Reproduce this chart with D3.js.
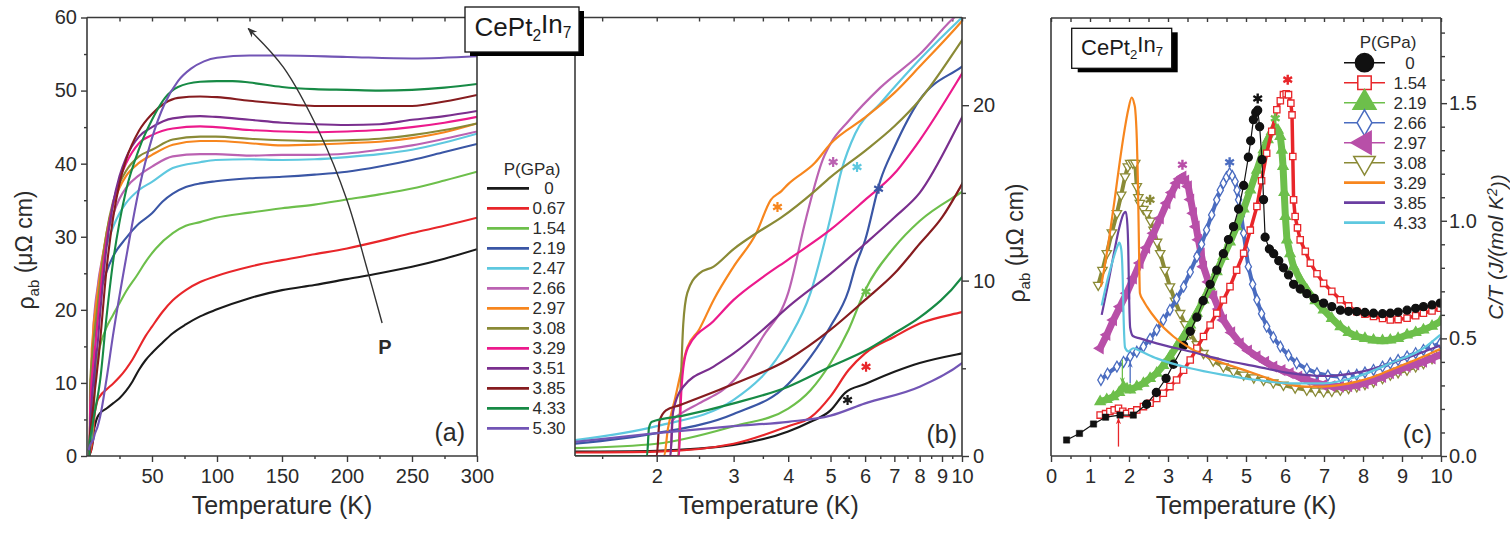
<!DOCTYPE html>
<html><head><meta charset="utf-8">
<script src="https://cdn.jsdelivr.net/npm/d3@7"></script>
<style>body{margin:0;background:#fff}svg{display:block;background:#fff}</style>
</head><body><svg id="c" width="1510" height="547"></svg>
<script>
// ---------------- DATA: panels (a) and (b)  [T (K), rho_ab (μΩ cm)] ----------------
const pressuresAB = ["0","0.67","1.54","2.19","2.47","2.66","2.97","3.08","3.29","3.51","3.85","4.33","5.30"];
const colorsAB = ["#1a1a1a","#e8262a","#6dbf4b","#3a56a5","#5ec8df","#bb62b2","#f7861e","#8a8a36","#ec1a8c","#7a2f8e","#861c1f","#178a45","#7255b5"];
const rho_000 = [[1.3,0.25],[2,0.3],[3,0.63],[4,1.4],[4.5,1.95],[5,2.6],[5.4,3.6],[6,4.1],[7,4.8],[8,5.3],[10,5.85],[15,6.5],[20,7.2],[25,7.9],[30,8.9],[35,10.2],[40,11.8],[45,13.1],[50,14.1],[58,15.5],[66,16.8],[76,18],[87,19.1],[99,20],[125,21.6],[150,22.7],[175,23.4],[200,24.2],[225,25],[250,25.9],[275,27],[300,28.3]];
const rho_067 = [[1.3,0.2],[2,0.25],[3,0.7],[4,1.7],[4.5,2.2],[5,3.4],[5.5,4.9],[6,5.85],[7,6.8],[8,7.55],[10,8.2],[15,9.1],[20,9.9],[25,10.8],[30,11.9],[35,13.2],[40,14.8],[45,16.4],[50,17.7],[58,19.7],[66,21.3],[76,22.7],[87,23.8],[99,24.6],[125,25.9],[150,26.8],[175,27.6],[200,28.4],[225,29.4],[250,30.5],[275,31.5],[300,32.6]];
const rho_154 = [[1.3,0.45],[2,0.7],[3,1.7],[4,2.7],[4.5,3.75],[5,5.3],[5.5,7.2],[6,9.45],[7,11.9],[8,13.4],[10,15.05],[15,17.6],[20,19.3],[25,20.9],[30,22.5],[38,24.6],[46,26.8],[53,28.4],[66,30.5],[76,31.5],[87,32],[99,32.6],[125,33.3],[150,33.9],[175,34.4],[200,35.1],[225,35.8],[250,36.6],[275,37.7],[300,38.9]];
const rho_219 = [[1.3,0.7],[2,1.3],[3,2.4],[4,4.1],[4.5,5.65],[5,7.4],[5.5,9.45],[5.7,10.8],[6,12.3],[6.5,15.7],[7,17.6],[8,20.3],[10,22.2],[15,25.2],[20,27.3],[30,29.8],[40,31.8],[50,33.2],[58,34.8],[66,35.9],[76,36.8],[87,37.3],[99,37.6],[125,38],[150,38.2],[175,38.5],[200,38.9],[225,39.6],[250,40.5],[275,41.6],[300,42.7]];
const rho_247 = [[1.3,0.9],[2,1.7],[3,3.2],[4,6.6],[4.5,9.3],[5,13.6],[5.3,16.3],[5.7,18.4],[6.5,20.1],[8,22.6],[10,25],[15,28.8],[20,31.3],[25,33.2],[30,34.6],[40,36.4],[50,37.5],[66,39.4],[87,40.2],[99,40.5],[125,40.6],[150,40.5],[175,40.6],[200,40.9],[225,41.3],[250,41.9],[275,42.9],[300,44.1]];
const rho_266 = [[1.3,0],[2.15,0],[2.17,2],[2.3,2.5],[2.5,3],[3,4.3],[3.5,6.8],[4,9.3],[4.4,13.6],[4.8,16.9],[5,17.8],[5.5,19.1],[6.5,21],[8,22.9],[9.5,24.9],[10,25.4],[15,30],[20,33],[25,35.2],[30,36.7],[40,38.4],[50,39.6],[66,41],[87,41.3],[99,41.3],[125,41.1],[150,41.2],[175,41.2],[200,41.4],[225,41.9],[250,42.5],[275,43.4],[300,44.4]];
const rho_297 = [[1.3,0],[2.08,0],[2.12,1.5],[2.2,3.2],[2.35,6.2],[2.5,7.2],[2.7,8.9],[3,10.8],[3.38,12.7],[3.65,14.6],[3.86,15.1],[4,15.5],[4.6,16.7],[5,17.8],[6,19.3],[7,20.7],[8,22.2],[10,24.8],[15,30.5],[20,34.3],[25,36.7],[30,38.3],[40,40.1],[50,41.2],[66,42.6],[87,43.1],[99,43.1],[125,42.8],[150,42.5],[175,42.6],[200,42.8],[225,43],[250,43.5],[275,44.3],[300,45.5]];
const rho_308 = [[1.3,0],[2.24,0],[2.27,4],[2.3,7.5],[2.35,9.3],[2.5,10.4],[2.7,10.8],[3,11.8],[3.38,12.7],[3.86,13.6],[4.6,15.1],[5,15.9],[6,17.4],[7,18.8],[8,20.3],[10,23.7],[15,30.5],[20,34.8],[25,37.3],[30,39],[40,41],[50,41.9],[66,43.3],[87,43.7],[99,43.7],[125,43.4],[150,43.2],[175,43.1],[200,43.2],[225,43.4],[250,43.9],[275,44.6],[300,45.5]];
const rho_329 = [[1.3,0],[2.25,0],[2.27,3],[2.3,5],[2.36,6.2],[2.7,7.7],[3,8.9],[3.5,10.2],[4,11.2],[5,12.9],[6,14.6],[7,16.1],[8,18],[10,21.8],[15,29.5],[20,34.5],[25,37.8],[30,40],[40,42.8],[50,43.9],[66,44.8],[87,45.1],[99,45],[125,44.6],[150,44.4],[175,44.3],[200,44.4],[225,44.6],[250,45],[275,45.6],[300,46.4]];
const rho_351 = [[1.3,0],[2.15,0],[2.18,2.5],[2.3,3.95],[2.7,5.1],[3,5.85],[3.5,7.2],[4,8.5],[5,10.4],[6,12.1],[7,13.6],[8,15],[10,19.3],[15,28.5],[20,34.5],[25,38.3],[30,40.8],[40,43.7],[50,45],[66,46.2],[87,46.5],[99,46.4],[125,46],[150,45.6],[175,45.4],[200,45.3],[225,45.4],[250,46],[275,46.5],[300,47.2]];
const rho_385 = [[1.3,0],[2.0,0],[2.03,2],[2.1,2.6],[2.26,2.9],[3,4.1],[4,5.5],[5,7.2],[6,8.9],[7,10.4],[8,12.1],[9,13.6],[10,15.5],[15,25.5],[20,32.5],[25,37.3],[30,40.5],[40,44.5],[50,46.8],[60,48.3],[70,49],[87,49.2],[100,49.1],[125,48.6],[150,48.2],[175,47.9],[200,47.9],[225,47.9],[250,47.9],[275,48.5],[300,49.4]];
const rho_433 = [[1.3,0],[1.9,0],[1.92,1.6],[1.95,1.95],[2.3,2.3],[3,3],[4,3.95],[5,5.1],[6,6],[7,7],[8,7.9],[10,10.2],[15,19],[20,26.5],[25,32],[30,36.3],[40,42],[50,46],[60,49],[70,50.5],[87,51.2],[100,51.3],[112,51.3],[125,51.1],[150,50.5],[175,50.2],[200,50.1],[225,50],[250,50.1],[275,50.4],[300,50.9]];
const rho_530 = [[1.3,0.8],[2,1.3],[3,1.7],[4,1.95],[5,2.3],[6,3],[8,3.95],[10,5.3],[15,10.5],[20,16.5],[30,27],[40,36.5],[50,43.5],[60,48.3],[70,51.3],[80,53],[90,54],[100,54.5],[125,54.8],[150,54.8],[200,54.6],[250,54.4],[300,54.7]];
const rhoAB = [rho_000,rho_067,rho_154,rho_219,rho_247,rho_266,rho_297,rho_308,rho_329,rho_351,rho_385,rho_433,rho_530];
// T_N stars in panel (b): [pressure, T, rho]
const starsB = [["0",5.47,3.19],["0.67",6.03,5.09],["1.54",6.03,9.36],["2.97",3.78,14.2],["2.66",5.07,16.76],["2.47",5.75,16.48],["2.19",6.44,15.24]];
// pressure arrow in panel (a): [T, rho]
const arrowP = [[227,18.2],[215,25.9],[200,35],[179,44.2],[151,53.2],[124,58.5]];
const labelP = [224,14];

// ---------------- DATA: panel (c)  [T (K), C/T (J/(mol K^2))] ----------------
const pressuresC = ["0","1.54","2.19","2.66","2.97","3.08","3.29","3.85","4.33"];
const colorsC = ["#111111","#e8262a","#6dbf4b","#4a6cc0","#b84fa8","#8a8a36","#f7861e","#6a3ea1","#5ec8df"];
const ct_000_low = [[0.4,0.068],[0.73,0.096],[1.09,0.136],[1.4,0.165],[1.77,0.174],[2.11,0.174]];
const ct_000 = [[2.45,0.22],[2.7,0.27],[2.95,0.33],[3.14,0.39],[3.4,0.47],[3.57,0.53],[3.74,0.59],[3.9,0.66],[4.08,0.73],[4.25,0.79],[4.42,0.86],[4.55,0.92],[4.68,0.975],[4.81,1.05],[4.94,1.15],[5.06,1.27],[5.12,1.34],[5.19,1.43],[5.25,1.46],[5.3,1.47],[5.35,1.4],[5.41,1.26],[5.45,1.09],[5.49,0.93],[5.6,0.88],[5.71,0.86],[5.84,0.83],[5.96,0.8],[6.09,0.77],[6.22,0.73],[6.39,0.71],[6.56,0.69],[6.75,0.67],[6.99,0.65],[7.2,0.635],[7.42,0.62],[7.63,0.615],[7.84,0.614],[8.05,0.61],[8.27,0.607],[8.5,0.605],[8.7,0.607],[8.9,0.612],[9.13,0.62],[9.35,0.628],[9.55,0.635],[9.77,0.642],[9.98,0.65]];
const ct_154 = [[1.26,0.174],[1.4,0.18],[1.51,0.189],[1.62,0.196],[1.73,0.203],[1.84,0.19],[1.94,0.181],[2.07,0.188],[2.2,0.196],[2.37,0.21],[2.54,0.224],[2.71,0.245],[2.88,0.267],[3.05,0.295],[3.22,0.323],[3.4,0.365],[3.57,0.408],[3.74,0.458],[3.91,0.508],[4.08,0.557],[4.25,0.607],[4.42,0.663],[4.59,0.72],[4.76,0.79],[4.94,0.862],[5.11,0.96],[5.28,1.061],[5.4,1.17],[5.53,1.287],[5.66,1.38],[5.79,1.472],[5.88,1.51],[5.96,1.536],[6.03,1.54],[6.09,1.536],[6.15,1.5],[6.18,1.45],[6.2,1.273],[6.22,1.089],[6.26,1.018],[6.32,0.97],[6.39,0.919],[6.52,0.87],[6.65,0.82],[6.82,0.775],[6.99,0.734],[7.2,0.7],[7.42,0.664],[7.63,0.638],[7.84,0.614],[8.05,0.603],[8.27,0.593],[8.5,0.585],[8.7,0.578],[8.9,0.58],[9.13,0.586],[9.35,0.596],[9.55,0.607],[9.77,0.617],[9.98,0.628]];
const ct_219 = [[1.26,0.231],[1.43,0.24],[1.6,0.252],[1.75,0.27],[1.86,0.295],[1.95,0.285],[2.03,0.281],[2.2,0.295],[2.37,0.309],[2.54,0.33],[2.71,0.352],[2.88,0.385],[3.05,0.423],[3.22,0.465],[3.4,0.508],[3.57,0.557],[3.74,0.607],[3.91,0.663],[4.08,0.72],[4.25,0.784],[4.42,0.848],[4.59,0.91],[4.76,0.975],[4.94,1.05],[5.11,1.131],[5.28,1.215],[5.45,1.302],[5.56,1.345],[5.66,1.38],[5.75,1.394],[5.82,1.385],[5.88,1.358],[5.92,1.3],[5.95,1.231],[5.98,1.12],[6.01,1.018],[6.05,0.919],[6.13,0.86],[6.22,0.805],[6.39,0.75],[6.56,0.706],[6.78,0.66],[6.99,0.621],[7.2,0.585],[7.42,0.55],[7.63,0.525],[7.84,0.508],[8.05,0.5],[8.27,0.493],[8.5,0.49],[8.7,0.493],[8.9,0.5],[9.13,0.515],[9.35,0.525],[9.55,0.536],[9.77,0.552],[9.98,0.571]];
const ct_266 = [[1.28,0.323],[1.45,0.35],[1.69,0.38],[1.86,0.4],[2.03,0.423],[2.2,0.443],[2.37,0.465],[2.54,0.498],[2.71,0.536],[2.88,0.578],[3.05,0.621],[3.22,0.668],[3.4,0.72],[3.57,0.782],[3.74,0.848],[3.86,0.9],[3.99,0.961],[4.12,1.025],[4.25,1.089],[4.34,1.13],[4.42,1.16],[4.5,1.185],[4.58,1.202],[4.65,1.19],[4.72,1.167],[4.77,1.13],[4.81,1.089],[4.88,1.02],[4.94,0.947],[5.0,0.875],[5.06,0.805],[5.17,0.73],[5.28,0.664],[5.4,0.605],[5.53,0.55],[5.7,0.505],[5.88,0.465],[6.09,0.428],[6.3,0.394],[6.56,0.37],[6.82,0.352],[7.1,0.342],[7.42,0.337],[7.63,0.34],[7.84,0.345],[8.05,0.355],[8.27,0.366],[8.5,0.38],[8.7,0.394],[8.9,0.408],[9.13,0.423],[9.35,0.437],[9.55,0.451],[9.77,0.465],[9.98,0.479]];
const ct_297 = [[1.26,0.458],[1.43,0.515],[1.6,0.578],[1.77,0.635],[1.94,0.692],[2.11,0.755],[2.28,0.82],[2.45,0.885],[2.63,0.947],[2.8,1.01],[2.97,1.075],[3.1,1.12],[3.22,1.16],[3.3,1.178],[3.38,1.188],[3.45,1.17],[3.52,1.146],[3.58,1.09],[3.65,1.032],[3.72,0.975],[3.78,0.919],[3.85,0.86],[3.91,0.805],[4.04,0.74],[4.17,0.678],[4.3,0.625],[4.42,0.578],[4.63,0.525],[4.85,0.479],[5.06,0.448],[5.28,0.423],[5.5,0.4],[5.71,0.38],[5.92,0.365],[6.13,0.352],[6.35,0.337],[6.56,0.323],[6.78,0.312],[6.99,0.302],[7.2,0.297],[7.42,0.295],[7.63,0.297],[7.84,0.302],[8.05,0.31],[8.27,0.323],[8.5,0.337],[8.7,0.352],[8.9,0.366],[9.13,0.38],[9.35,0.39],[9.55,0.401],[9.77,0.415],[9.98,0.43]];
const ct_308 = [[1.21,0.727],[1.32,0.79],[1.43,0.862],[1.56,0.95],[1.69,1.032],[1.8,1.11],[1.9,1.188],[1.97,1.23],[2.03,1.245],[2.1,1.245],[2.16,1.245],[2.2,1.146],[2.24,1.1],[2.28,1.075],[2.37,1.05],[2.46,1.032],[2.55,1.0],[2.63,0.961],[2.72,0.91],[2.8,0.862],[2.92,0.79],[3.05,0.72],[3.18,0.66],[3.31,0.607],[3.44,0.56],[3.57,0.522],[3.74,0.475],[3.91,0.437],[4.16,0.405],[4.42,0.38],[4.68,0.36],[4.94,0.345],[5.2,0.333],[5.45,0.323],[5.7,0.312],[5.96,0.302],[6.26,0.29],[6.56,0.281],[6.78,0.277],[6.99,0.274],[7.2,0.276],[7.42,0.281],[7.63,0.288],[7.84,0.295],[8.05,0.305],[8.27,0.316],[8.5,0.33],[8.7,0.345],[8.9,0.355],[9.13,0.366],[9.35,0.38],[9.55,0.394],[9.77,0.415],[9.98,0.437]];
const ct_329 = [[1.28,0.72],[1.4,0.83],[1.51,0.947],[1.64,1.1],[1.77,1.259],[1.88,1.38],[1.98,1.472],[2.07,1.524],[2.13,1.5],[2.16,1.472],[2.2,1.35],[2.22,1.231],[2.25,0.95],[2.28,0.692],[2.37,0.66],[2.46,0.635],[2.71,0.578],[3.14,0.508],[3.57,0.458],[3.99,0.423],[4.42,0.394],[4.94,0.366],[5.45,0.337],[5.96,0.309],[6.56,0.295],[6.99,0.295],[7.42,0.302],[7.84,0.316],[8.27,0.337],[8.7,0.366],[9.13,0.394],[9.55,0.423],[9.98,0.455]];
const ct_385 = [[1.3,0.6],[1.45,0.72],[1.6,0.85],[1.75,0.97],[1.86,1.03],[1.92,1.038],[1.96,0.98],[1.98,0.89],[2.0,0.7],[2.03,0.545],[2.1,0.51],[2.28,0.5],[2.71,0.479],[3.57,0.444],[4.42,0.408],[5.28,0.38],[6.13,0.352],[7.0,0.34],[8.0,0.36],[9.0,0.41],[9.98,0.47]];
const ct_433 = [[1.3,0.64],[1.45,0.75],[1.6,0.84],[1.7,0.89],[1.75,0.907],[1.8,0.88],[1.84,0.75],[1.86,0.6],[1.9,0.46],[1.98,0.445],[2.11,0.458],[2.3,0.445],[2.71,0.415],[3.57,0.373],[4.42,0.345],[5.28,0.323],[6.13,0.309],[6.99,0.309],[7.84,0.337],[8.7,0.394],[9.55,0.458],[9.98,0.515]];
const ctC = [ct_000,ct_154,ct_219,ct_266,ct_297,ct_308,ct_329,ct_385,ct_433];
const symbolsC = ["circle","square","triangle","diamond","left","down",null,null,null];
const filledC = [true,false,true,false,true,false,false,false,false];
// T_N stars in panel (c): [pressure, T, C/T]
const starsC = [["0",5.3,1.52],["1.54",6.07,1.6],["2.19",5.75,1.436],["2.66",4.58,1.249],["2.97",3.37,1.238],["3.08",2.54,1.089]];
// T_c arrows in panel (c): [pressure, T, from, to]
const arrowsC = [["1.54",1.73,0.04,0.16],["2.19",1.83,0.41,0.31],["2.66",2.03,0.31,0.40]];

// tick values
const ticksAx = [50,100,150,200,250,300], ticksAxMinor = [25,75,125,175,225,275];
const ticksAy = [0,10,20,30,40,50,60], ticksAyMinor = [5,15,25,35,45,55];
const ticksBx = [2,3,4,5,6,7,8,9,10], ticksBxMinor = [1.5,2.5,3.5,4.5,5.5,6.5,7.5,8.5,9.5];
const ticksBy = [0,10,20], ticksByMinor = [5,15,25];
const ticksCx = [0,1,2,3,4,5,6,7,8,9,10], ticksCxMinor = [0.5,1.5,2.5,3.5,4.5,5.5,6.5,7.5,8.5,9.5];
const ticksCy = [0,0.5,1.0,1.5], ticksCyMinor = [0.1,0.2,0.3,0.4,0.6,0.7,0.8,0.9,1.1,1.2,1.3,1.4,1.6,1.7,1.8];

// ---------------- DRAWING ----------------
const FONT = "'Liberation Sans', Arial, Helvetica, sans-serif";
const FR = "#3a3a3a", TXT = "#2b2b2b";
const svg = d3.select("#c").style("font-family", FONT);
const defs = svg.append("defs");

const A = {x0:87, x1:477, y0:17.5, y1:456};
const B = {x0:575, x1:962, y0:17.5, y1:456};
const Cp = {x0:1051, x1:1441, y0:18, y1:456};
const xA = d3.scaleLinear().domain([0,300]).range([A.x0,A.x1]);
const yA = d3.scaleLinear().domain([0,60]).range([A.y1,A.y0]);
const xB = d3.scaleLog().domain([1.3,10]).range([B.x0,B.x1]);
const yB = d3.scaleLinear().domain([0,25]).range([B.y1,B.y0]);
const xC = d3.scaleLinear().domain([0,10]).range([Cp.x0,Cp.x1]);
const yC = d3.scaleLinear().domain([0,1.862]).range([Cp.y1,Cp.y0]);

function clip(id, P){ defs.append("clipPath").attr("id",id).append("rect").attr("x",P.x0).attr("y",P.y0).attr("width",P.x1-P.x0).attr("height",P.y1-P.y0); }
clip("clA",A); clip("clB",B); clip("clC",Cp);

function ax(gen, tx, ty, labels){
  const g = svg.append("g").attr("transform",`translate(${tx},${ty})`).call(gen);
  g.select(".domain").remove();
  g.selectAll(".tick line").attr("stroke",FR).attr("stroke-width",1.4);
  if(!labels) g.selectAll(".tick text").remove();
  else g.selectAll(".tick text").attr("fill",TXT).style("font-size","20px").style("font-family",FONT);
  return g;
}
function frame(P, sides){
  sides.forEach(s=>{
    const l = {top:[P.x0,P.y0,P.x1,P.y0], bottom:[P.x0,P.y1,P.x1,P.y1], left:[P.x0,P.y0,P.x0,P.y1], right:[P.x1,P.y0,P.x1,P.y1]}[s];
    svg.append("line").attr("x1",l[0]).attr("y1",l[1]).attr("x2",l[2]).attr("y2",l[3]).attr("stroke",FR).attr("stroke-width",1.6);
  });
}

// ----- Panel (a) -----
ax(d3.axisBottom(xA).tickValues(ticksAx).tickSize(6).tickPadding(7), 0, A.y1, true);
ax(d3.axisBottom(xA).tickValues(ticksAxMinor).tickSize(3), 0, A.y1, false);
ax(d3.axisTop(xA).tickValues(ticksAx.concat(ticksAxMinor)).tickSize(-4), 0, A.y0, false);
ax(d3.axisLeft(yA).tickValues(ticksAy).tickSize(6).tickPadding(4), A.x0, 0, true);
ax(d3.axisLeft(yA).tickValues(ticksAyMinor).tickSize(3), A.x0, 0, false);

const lineA = d3.line().x(d=>xA(d[0])).y(d=>yA(d[1])).curve(d3.curveMonotoneX);
const gA = svg.append("g").attr("clip-path","url(#clA)");
rhoAB.forEach((s,i)=>gA.append("path").attr("d",lineA(s)).attr("fill","none").attr("stroke",colorsAB[i]).attr("stroke-width",2.1));
frame(A,["top","bottom","left","right"]);

// arrow P
defs.append("marker").attr("id","arrP").attr("viewBox","0 0 10 10").attr("refX",9).attr("refY",5)
  .attr("markerWidth",7).attr("markerHeight",7).attr("orient","auto")
  .append("path").attr("d","M0,1 L10,5 L0,9 L3,5 Z").attr("fill","#333");
svg.append("path").attr("d",d3.line().x(d=>xA(d[0])).y(d=>yA(d[1])).curve(d3.curveCatmullRom)(arrowP))
  .attr("fill","none").attr("stroke","#333").attr("stroke-width",1.4).attr("marker-end","url(#arrP)");
svg.append("text").attr("x",xA(labelP[0])).attr("y",yA(labelP[1])).attr("font-weight","bold")
  .style("font-size","20px").attr("fill",TXT).text("P");
svg.append("text").attr("x",465).attr("y",441).attr("text-anchor","end").style("font-size","25px").attr("fill",TXT).text("(a)");

svg.append("text").attr("x",(A.x0+A.x1)/2).attr("y",514).attr("text-anchor","middle").style("font-size","25px").attr("fill",TXT).text("Temperature (K)");
function rhoTitle(x,y){
  const t = svg.append("text").attr("transform",`translate(${x},${y}) rotate(-90)`).attr("text-anchor","middle").style("font-size","23px").attr("fill",TXT);
  t.append("tspan").text("ρ");
  t.append("tspan").attr("dy","0.3em").style("font-size","15px").text("ab");
  t.append("tspan").attr("dy","-0.3em").text(" (μΩ cm)");
}
rhoTitle(34,250);

// ----- Panel (b) -----
ax(d3.axisBottom(xB).tickValues(ticksBx).tickFormat(d3.format("d")).tickSize(6).tickPadding(7), 0, B.y1, true);
ax(d3.axisBottom(xB).tickValues(ticksBxMinor).tickSize(3), 0, B.y1, false);
ax(d3.axisTop(xB).tickValues(ticksBx.concat(ticksBxMinor)).tickSize(-4), 0, B.y0, false);
ax(d3.axisRight(yB).tickValues(ticksBy).tickSize(7).tickPadding(4), B.x1, 0, true);
ax(d3.axisRight(yB).tickValues(ticksByMinor).tickSize(4), B.x1, 0, false);

const lineB = d3.line().x(d=>xB(d[0])).y(d=>yB(d[1])).curve(d3.curveMonotoneX);
const gB = svg.append("g").attr("clip-path","url(#clB)");
rhoAB.forEach((s,i)=>gB.append("path").attr("d",lineB(s.filter(d=>d[0]<=15))).attr("fill","none").attr("stroke",colorsAB[i]).attr("stroke-width",2.2));
frame(B,["top","bottom","left","right"]);

const ast = d3.symbol().type(d3.symbolAsterisk).size(70);
starsB.forEach(s=>{
  const c = colorsAB[pressuresAB.indexOf(s[0])];
  svg.append("path").attr("d",ast()).attr("transform",`translate(${xB(s[1])},${yB(s[2])})`).attr("fill","none").attr("stroke",c).attr("stroke-width",2.2);
});
svg.append("text").attr("x",957).attr("y",443).attr("text-anchor","end").style("font-size","25px").attr("fill",TXT).text("(b)");
svg.append("text").attr("x",(B.x0+B.x1)/2).attr("y",514).attr("text-anchor","middle").style("font-size","25px").attr("fill",TXT).text("Temperature (K)");
rhoTitle(1025,243);

// legend (b)
svg.append("text").attr("x",532).attr("y",175).attr("text-anchor","middle").style("font-size","17px").attr("fill",TXT).text("P(GPa)");
pressuresAB.forEach((p,i)=>{
  const y = 188.3 + 20*i;
  svg.append("line").attr("x1",487).attr("x2",529).attr("y1",y).attr("y2",y).attr("stroke",colorsAB[i]).attr("stroke-width",2.8);
  svg.append("text").attr("x",549).attr("y",y+6).attr("text-anchor","middle").style("font-size","17px").attr("fill",TXT).text(p);
});

function compBox(x,y,w,h,dx,dy,fs,cx,by){
  svg.append("rect").attr("x",x+dx).attr("y",y+dy).attr("width",w).attr("height",h).attr("fill","#000");
  svg.append("rect").attr("x",x).attr("y",y).attr("width",w).attr("height",h).attr("fill","#fff").attr("stroke","#111").attr("stroke-width",1.3);
  const t = svg.append("text").attr("x",cx).attr("y",by).attr("text-anchor","middle").style("font-size",fs+"px").attr("fill","#1a1a1a");
  t.append("tspan").text("CePt");
  t.append("tspan").attr("dy","0.3em").style("font-size",(fs*0.6)+"px").text("2");
  t.append("tspan").attr("dy","-0.3em").text("In");
  t.append("tspan").attr("dy","0.3em").style("font-size",(fs*0.6)+"px").text("7");
}
compBox(465,7,114,45,5,4,26,523,36);

// ----- Panel (c) -----
ax(d3.axisBottom(xC).tickValues(ticksCx).tickFormat(d3.format("d")).tickSize(6).tickPadding(7), 0, Cp.y1, true);
ax(d3.axisBottom(xC).tickValues(ticksCxMinor).tickSize(3), 0, Cp.y1, false);
ax(d3.axisTop(xC).tickValues(ticksCx.concat(ticksCxMinor)).tickSize(-4), 0, Cp.y0, false);
ax(d3.axisRight(yC).tickValues(ticksCy).tickFormat(d3.format(".1f")).tickSize(6).tickPadding(2), Cp.x1, 0, true);
ax(d3.axisRight(yC).tickValues(ticksCyMinor).tickSize(4), Cp.x1, 0, false);

const lineC = d3.line().x(d=>xC(d[0])).y(d=>yC(d[1]));
const lineCs = d3.line().x(d=>xC(d[0])).y(d=>yC(d[1])).curve(d3.curveMonotoneX);
const gC = svg.append("g").attr("clip-path","url(#clC)");
const symType = {circle:d3.symbolCircle, square:d3.symbolSquare, triangle:d3.symbolTriangle, diamond:d3.symbolDiamond, left:d3.symbolTriangle, down:d3.symbolTriangle};
const symRot = {circle:0, square:0, triangle:0, diamond:0, left:-90, down:180};
function drawSym(g, kind, filled, color, x, y, size, sw){
  g.append("path").attr("d",d3.symbol().type(symType[kind]).size(size)())
   .attr("transform",`translate(${x},${y}) rotate(${symRot[kind]})`)
   .attr("fill",filled?color:"#fff").attr("stroke",color).attr("stroke-width",sw);
}
const sizeC = {circle:50, square:40, triangle:44, diamond:34, left:44, down:38};
const bandC = [1.2, 3.5, 7, 4, 7, 4];   // stroke of the dense data trace under the symbols
const orderC = [5,4,3,2,1,0];
orderC.forEach(i=>{
  const c = colorsC[i], kind = symbolsC[i];
  const data = i===0 ? ct_000_low.concat(ctC[0]) : ctC[i];
  gC.append("path").attr("d",lineC(data)).attr("fill","none").attr("stroke",c).attr("stroke-width",bandC[i]).attr("stroke-linejoin","round");
  if(i===0) ct_000_low.forEach(d=>drawSym(gC,"square",true,c,xC(d[0]),yC(d[1]),40,0.5));
  ctC[i].forEach(d=>drawSym(gC,kind,filledC[i],c,xC(d[0]),yC(d[1]),sizeC[kind],1.3));
});
[6,7,8].forEach(i=>gC.append("path").attr("d",lineCs(ctC[i])).attr("fill","none").attr("stroke",colorsC[i]).attr("stroke-width",2.2));
frame(Cp,["top","bottom","left","right"]);

starsC.forEach(s=>{
  const c = colorsC[pressuresC.indexOf(s[0])];
  svg.append("path").attr("d",ast()).attr("transform",`translate(${xC(s[1])},${yC(s[2])})`).attr("fill","none").attr("stroke",c).attr("stroke-width",2.4);
});
arrowsC.forEach((a,k)=>{
  const c = colorsC[pressuresC.indexOf(a[0])];
  defs.append("marker").attr("id","arC"+k).attr("viewBox","0 0 10 10").attr("refX",9).attr("refY",5)
    .attr("markerWidth",5).attr("markerHeight",6).attr("orient","auto")
    .append("path").attr("d","M0,1 L10,5 L0,9 L3,5 Z").attr("fill",c);
  svg.append("line").attr("x1",xC(a[1])).attr("x2",xC(a[1])).attr("y1",yC(a[2])).attr("y2",yC(a[3]))
    .attr("stroke",c).attr("stroke-width",1.3).attr("marker-end",`url(#arC${k})`);
});
svg.append("text").attr("x",1432).attr("y",443).attr("text-anchor","end").style("font-size","25px").attr("fill",TXT).text("(c)");
svg.append("text").attr("x",(Cp.x0+Cp.x1)/2).attr("y",514).attr("text-anchor","middle").style("font-size","25px").attr("fill",TXT).text("Temperature (K)");
{
  const t = svg.append("text").attr("transform","translate(1503,247) rotate(-90)").attr("text-anchor","middle").style("font-size","21px").attr("fill",TXT).attr("font-style","italic");
  t.append("tspan").text("C/T (J/(mol K");
  t.append("tspan").attr("dy","-0.45em").style("font-size","14px").text("2");
  t.append("tspan").attr("dy","0.45em").text("))");
}
compBox(1071.7,28.3,100,40,6,4,22,1122,55);

// legend (c)
svg.append("text").attr("x",1388).attr("y",48).attr("text-anchor","middle").style("font-size","17px").attr("fill",TXT).text("P(GPa)");
const legSize = {circle:260, square:180, triangle:230, diamond:190, left:230, down:200};
pressuresC.forEach((p,i)=>{
  const y = 62.7 + 20*i;
  svg.append("line").attr("x1",1344).attr("x2",1385).attr("y1",y).attr("y2",y).attr("stroke",colorsC[i]).attr("stroke-width",symbolsC[i]?1.5:2.8);
  if(symbolsC[i]) drawSym(svg,symbolsC[i],filledC[i],colorsC[i],1364.5,y,legSize[symbolsC[i]],1.5);
  svg.append("text").attr("x",1410).attr("y",y+6).attr("text-anchor","middle").style("font-size","17px").attr("fill",TXT).text(p);
});
</script></body></html>
